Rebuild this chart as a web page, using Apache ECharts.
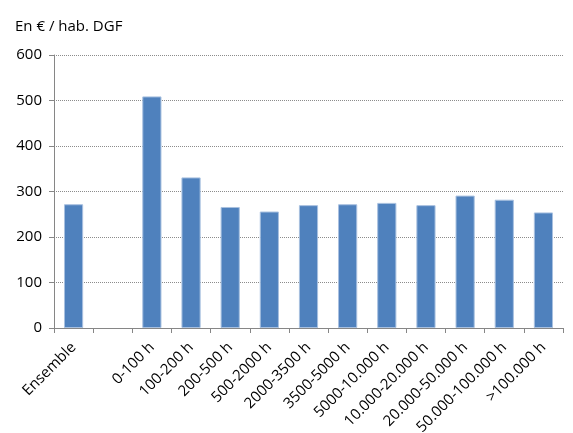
<!DOCTYPE html>
<html>
<head>
<meta charset="utf-8">
<script src="https://cdn.jsdelivr.net/npm/echarts@6/dist/echarts.min.js"></script>
<style>
  html, body { margin: 0; padding: 0; background: #fff; }
  #chart { width: 573px; height: 433px; }
</style>
</head>
<body>
<div id="chart"></div>
<script>
// categories (the empty one is a gap between Ensemble and the classes)
const categories = ['Ensemble', '', '0-100 h', '100-200 h', '200-500 h', '500-2000 h',
  '2000-3500 h', '3500-5000 h', '5000-10.000 h', '10.000-20.000 h',
  '20.000-50.000 h', '50.000-100.000 h', '>100.000 h'];
const values = [272, null, 509, 331, 266, 256, 270, 272, 275, 270, 291, 282, 254];
const yTicks = [0, 100, 200, 300, 400, 500, 600];

const fontFam = '"Open Sans", "Liberation Sans", sans-serif';
const myChart = echarts.init(document.getElementById('chart'));
const option = {
  animation: false,
  title: {
    text: 'En € / hab. DGF',
    left: 10,
    top: 14,
    textStyle: { fontFamily: fontFam, fontSize: 15, fontWeight: 'normal', color: '#000' }
  },
  grid: { left: 54, right: 10, top: 55, bottom: 105, containLabel: false, outerBoundsMode: 'none' },
  xAxis: {
    type: 'category',
    data: categories,
    axisLine: { lineStyle: { color: '#868686' } },
    axisTick: { show: true, alignWithLabel: false, length: 5, lineStyle: { color: '#868686' } },
    axisLabel: {
      interval: 0,
      rotate: 45,
      fontFamily: fontFam,
      fontSize: 15,
      color: '#000',
      margin: 17
    }
  },
  yAxis: {
    type: 'value',
    min: yTicks[0],
    max: yTicks[yTicks.length - 1],
    interval: 100,
    axisLine: { show: true, lineStyle: { color: '#868686' } },
    axisTick: { show: true, length: 5, lineStyle: { color: '#868686' } },
    axisLabel: { fontFamily: fontFam, fontSize: 15, color: '#000', margin: 12 },
    splitLine: { lineStyle: { color: '#8c8c8c', type: [1, 1], width: 1 } }
  },
  series: [{
    type: 'bar',
    data: values,
    barWidth: '49%',
    itemStyle: { color: '#4F81BD', borderColor: '#a9c1e0', borderWidth: 1 }
  }]
};
myChart.setOption(option);
</script>
</body>
</html>
